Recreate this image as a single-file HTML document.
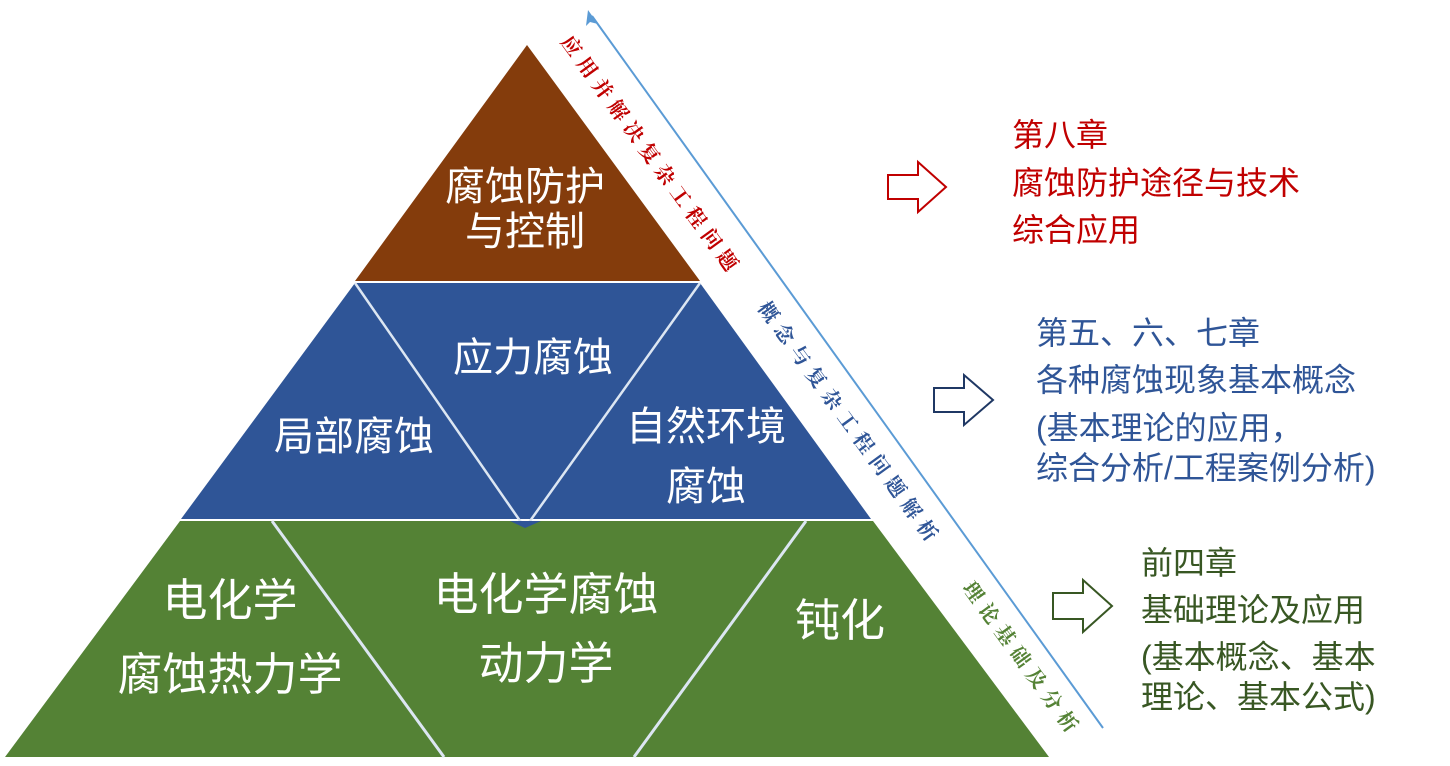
<!DOCTYPE html>
<html><head><meta charset="utf-8"><style>
html,body{margin:0;padding:0;background:#fff;}
svg{display:block;}
text{font-family:"Liberation Sans","Noto Sans CJK SC",sans-serif;}
.d{font-family:"Liberation Serif","Noto Serif CJK SC",serif;font-size:20px;font-weight:bold;}
</style></head><body>
<svg width="1450" height="766" viewBox="0 0 1450 766" xmlns="http://www.w3.org/2000/svg">
<polygon points="527,45 700,281 355,281" fill="#843C0C"/>
<polygon points="355,283 700,283 871,519 181,519" fill="#2F5597"/>
<polyline points="355,283 525,528 700,283" fill="none" stroke="#dce6f2" stroke-width="2.5"/>
<polygon points="180,521 873,521 1049,757 5,757" fill="#548235"/>
<line x1="272" y1="521" x2="444" y2="757" stroke="#dce6f2" stroke-width="3"/>
<line x1="806" y1="521" x2="634" y2="757" stroke="#dce6f2" stroke-width="3"/>
<polygon points="510,521 541,521 525,528" fill="#2F5597"/>
<g fill="#fff" font-size="40" text-anchor="middle">
<text x="525" y="200">腐蚀防护</text>
<text x="525" y="245">与控制</text>
<text x="533" y="371">应力腐蚀</text>
<text x="354" y="450">局部腐蚀</text>
<text x="706" y="440">自然环境</text>
<text x="706" y="500">腐蚀</text>
<text x="230" y="616" font-size="45">电化学</text>
<text x="230" y="690" font-size="45">腐蚀热力学</text>
<text x="546" y="610" font-size="45">电化学腐蚀</text>
<text x="546" y="679" font-size="45">动力学</text>
<text x="840" y="636" font-size="45">钝化</text>
</g>
<line x1="1103" y1="728" x2="592" y2="16" stroke="#5B9BD5" stroke-width="2"/>
<polygon points="588,10 598,24 590,22 586,26" fill="#5B9BD5"/>
<g transform="translate(560,42) rotate(54)"><text class="d" fill="#C00000" textLength="285" lengthAdjust="spacing">应用并解决复杂工程问题</text></g>
<g transform="translate(757,308) rotate(54)"><text class="d" fill="#2F5597" textLength="290" lengthAdjust="spacing">概念与复杂工程问题解析</text></g>
<g transform="translate(962,588) rotate(54)"><text class="d" fill="#548235" textLength="180" lengthAdjust="spacing">理论基础及分析</text></g>
<polygon points="888,175 918,175 918,162 946,187 918,212 918,199 888,199" fill="#fff" stroke="#C00000" stroke-width="2"/>
<polygon points="934,388 964,388 964,375 993,400 964,425 964,412 934,412" fill="#fff" stroke="#1F3864" stroke-width="2"/>
<polygon points="1053,593 1083,593 1083,580 1112,606 1083,632 1083,619 1053,619" fill="#fff" stroke="#385723" stroke-width="2"/>
<g font-size="32" fill="#C00000">
<text x="1012" y="146">第八章</text>
<text x="1012" y="194">腐蚀防护途径与技术</text>
<text x="1012" y="241">综合应用</text>
</g>
<g font-size="32" fill="#2F5597">
<text x="1036" y="344">第五、六、七章</text>
<text x="1036" y="391">各种腐蚀现象基本概念</text>
<text x="1036" y="439">(基本理论的应用，</text>
<text x="1036" y="479">综合分析/工程案例分析)</text>
</g>
<g font-size="32" fill="#385723">
<text x="1141" y="574">前四章</text>
<text x="1141" y="621">基础理论及应用</text>
<text x="1141" y="668">(基本概念、基本</text>
<text x="1141" y="708">理论、基本公式)</text>
</g>
</svg>
</body></html>
